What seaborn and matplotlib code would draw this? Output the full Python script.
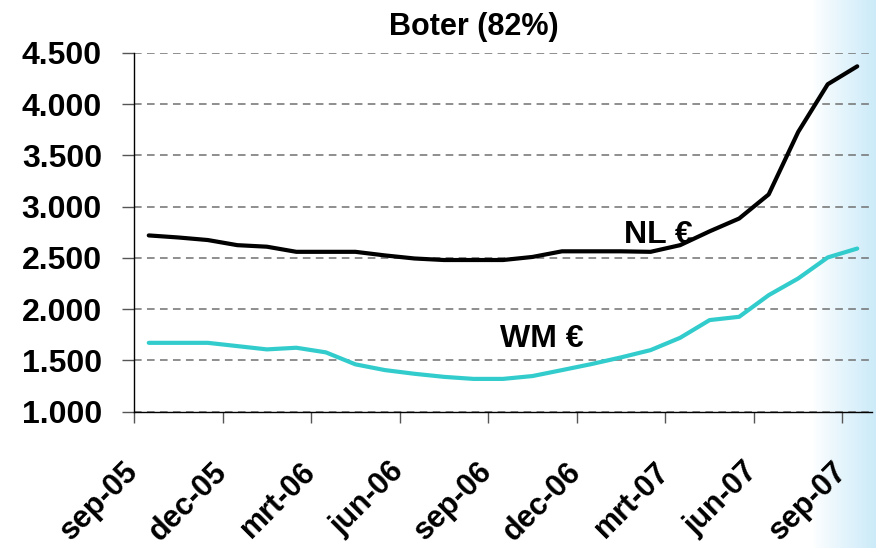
import numpy as np
import pandas as pd
import matplotlib
matplotlib.use("Agg")
import matplotlib.pyplot as plt
import matplotlib.transforms as mtransforms
from matplotlib.ticker import FuncFormatter
import seaborn as sns

# ---- data ----
months = ["sep-05", "okt-05", "nov-05", "dec-05", "jan-06", "feb-06", "mrt-06", "apr-06",
          "mei-06", "jun-06", "jul-06", "aug-06", "sep-06", "okt-06", "nov-06", "dec-06",
          "jan-07", "feb-07", "mrt-07", "apr-07", "mei-07", "jun-07", "jul-07", "aug-07", "sep-07"]
nl_values = [2720, 2700, 2675, 2625, 2610, 2560, 2560, 2560, 2525, 2495, 2480, 2480, 2480,
             2510, 2565, 2565, 2565, 2560, 2625, 2760, 2885, 3120, 3730, 4195, 4370]
wm_values = [1672, 1672, 1672, 1640, 1608, 1624, 1579, 1462, 1406, 1370, 1340, 1320, 1320,
             1348, 1406, 1465, 1530, 1601, 1721, 1894, 1926, 2137, 2300, 2505, 2592]
tick_labels = ["sep-05", "dec-05", "mrt-06", "jun-06", "sep-06", "dec-06", "mrt-07", "jun-07", "sep-07"]
series_names = ["NL €", "WM €"]
title = "Boter (82%)"

df = pd.DataFrame({
    "idx": list(range(len(months))) * 2,
    "value": nl_values + wm_values,
    "series": [series_names[0]] * len(months) + [series_names[1]] * len(months),
})

sns.set_style("white")
plt.rcParams["font.family"] = ["Liberation Sans", "DejaVu Sans"]
plt.rcParams["font.weight"] = "bold"

W, H = 876, 548
fig = plt.figure(figsize=(W / 100, H / 100), dpi=100)

# background gradient on the right edge
bg = fig.add_axes([0, 0, 1, 1], zorder=-10)
xs = np.linspace(0, 1, W)
start = 813 / W
t = np.clip((xs - start) / (1 - start), 0, 1) ** 0.9
end_col = np.array([0.80, 0.92, 0.975])
row = (1 - t)[:, None] * np.array([1, 1, 1]) + t[:, None] * end_col
img = np.tile(row[None, :, :], (H, 1, 1))
bg.imshow(img, aspect="auto", extent=[0, 1, 0, 1])
bg.axis("off")

ax = fig.add_axes([134 / W, 1 - 411.7 / H, (872 - 134) / W, (411.7 - 53) / H])
ax.patch.set_alpha(0)

sns.lineplot(data=df, x="idx", y="value", hue="series",
             palette={series_names[0]: "#000000", series_names[1]: "#33cccc"},
             linewidth=3.0, legend=False, ax=ax, zorder=5)

ax.set_xlim(-0.5, len(months) - 0.5)
ax.set_ylim(1000, 4500)
ax.set_yticks(np.arange(1000, 4501, 500))
ax.yaxis.set_major_formatter(FuncFormatter(lambda v, p: f"{v:,.0f}".replace(",", ".")))
ax.set_xticks(np.arange(-0.5, len(months) - 1, 3))
ax.set_xticklabels(tick_labels, rotation=45, ha="right", va="center", rotation_mode="anchor")
offset = mtransforms.ScaledTranslation(3 / 100, 0, fig.dpi_scale_trans)
for lbl in ax.get_xticklabels():
    lbl.set_transform(lbl.get_transform() + offset)

ax.set_xlabel("")
ax.set_ylabel("")
ax.grid(axis="y", color="#707070", linestyle=(0, (5, 3.5)), linewidth=1.1)
ax.grid(axis="x", visible=False)
for s in ["top", "right"]:
    ax.spines[s].set_visible(False)
for s in ["left", "bottom"]:
    ax.spines[s].set_color("#000000")
    ax.spines[s].set_linewidth(1.0)

ax.tick_params(axis="y", left=True, length=8.6, width=1, color="#555555", pad=14.5,
               labelsize=23, labelcolor="black")
ax.tick_params(axis="x", bottom=True, length=8, width=1, color="#555555", pad=32,
               labelsize=22, labelcolor="black")
for lbl in ax.get_xticklabels() + ax.get_yticklabels():
    lbl.set_fontweight("bold")

ax.text(17.28, 2647, series_names[0], ha="center", va="baseline",
        fontsize=23, fontweight="bold", color="black", zorder=6)
ax.text(13.31, 1633, series_names[1], ha="center", va="baseline",
        fontsize=23, fontweight="bold", color="black", zorder=6)

fig.text(474 / W, 1 - 35 / H, title, ha="center", va="baseline",
         fontsize=22, fontweight="bold", color="black")

fig.savefig("out.png", dpi=100)
